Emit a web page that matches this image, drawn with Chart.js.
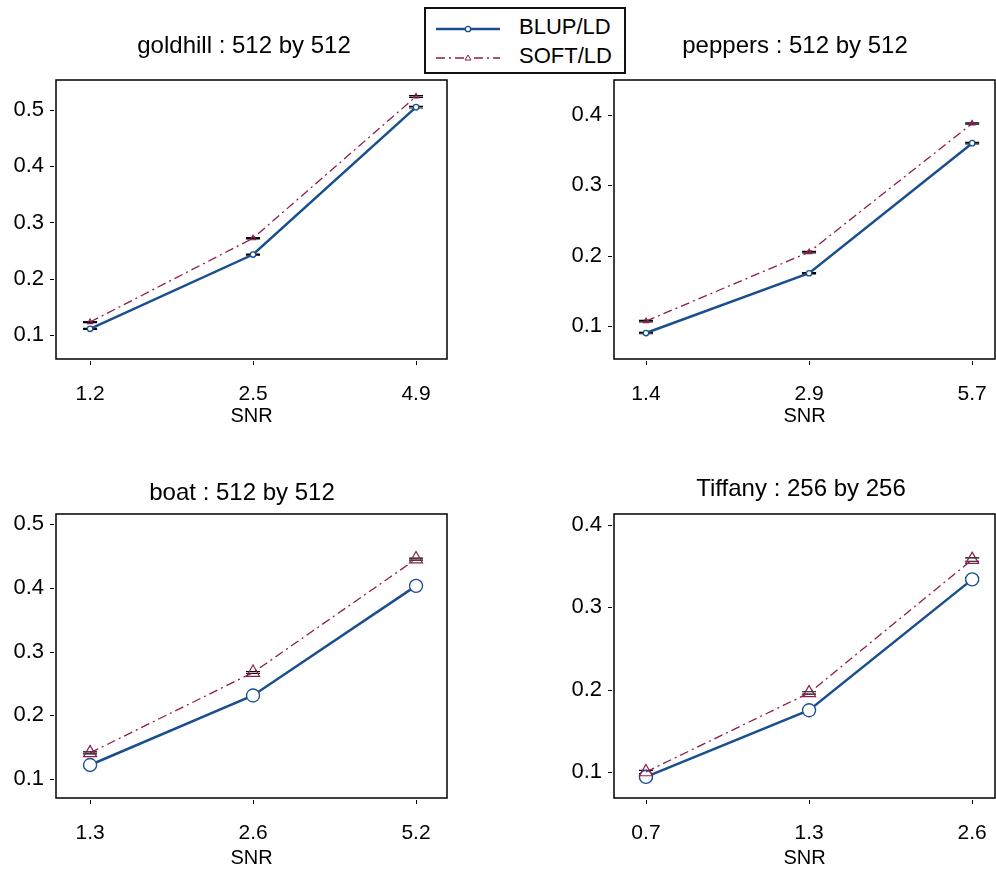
<!DOCTYPE html>
<html>
<head>
<meta charset="utf-8">
<script src="https://cdn.jsdelivr.net/npm/chart.js@4.4.1/dist/chart.umd.min.js"></script>
<style>
  html, body { margin: 0; padding: 0; background: #fff; }
  body { width: 996px; height: 873px; position: relative; overflow: hidden;
         font-family: "Liberation Sans", Arial, sans-serif; }
  canvas { position: absolute; }
  #key { position: absolute; left: 424px; top: 7px; width: 202px; height: 67px;
         box-sizing: border-box; border: 2px solid #111; background: #fff; }
  #key .txt { position: absolute; left: 93px; font-size: 22px; line-height: 26px; color: #000; }
  #key svg { position: absolute; left: 9px; }
</style>
</head>
<body>
<canvas id="c1"></canvas>
<canvas id="c2"></canvas>
<canvas id="c3"></canvas>
<canvas id="c4"></canvas>
<div id="key">
  <svg width="66" height="10" style="top:15px">
    <line x1="1" y1="5" x2="65" y2="5" stroke="#1a4f8f" stroke-width="2.5"/>
    <circle cx="33" cy="5" r="2.7" fill="#fff" stroke="#1a4f8f" stroke-width="1.3"/>
  </svg>
  <div class="txt" style="top:5px">BLUP/LD</div>
  <svg width="66" height="10" style="top:44px">
    <line x1="1" y1="5" x2="65" y2="5" stroke="#8c1c50" stroke-width="1.3" stroke-dasharray="9,4,2,4"/>
    <polygon points="33,2 36,7 30,7" fill="#fff" stroke="#8c1c50" stroke-width="1"/>
  </svg>
  <div class="txt" style="top:34px">SOFT/LD</div>
</div>
<script>
// ---- data ----
const goldhillSNR = ['1.2', '2.5', '4.9'];
const goldhillBLUP = [0.111, 0.243, 0.505];
const goldhillSOFT = [0.123, 0.272, 0.524];
const goldhillErr = [0.001, 0.001, 0.0015];
const goldhillYTicks = [0.1, 0.2, 0.3, 0.4, 0.5];

const peppersSNR = ['1.4', '2.9', '5.7'];
const peppersBLUP = [0.090, 0.175, 0.360];
const peppersSOFT = [0.107, 0.205, 0.388];
const peppersErr = [0.001, 0.001, 0.001];
const peppersYTicks = [0.1, 0.2, 0.3, 0.4];

const boatSNR = ['1.3', '2.6', '5.2'];
const boatBLUP = [0.122, 0.231, 0.403];
const boatSOFT = [0.141, 0.267, 0.445];
const boatErr = [0.0015, 0.0015, 0.0015];
const boatYTicks = [0.1, 0.2, 0.3, 0.4, 0.5];

const tiffanySNR = ['0.7', '1.3', '2.6'];
const tiffanyBLUP = [0.094, 0.175, 0.334];
const tiffanySOFT = [0.100, 0.196, 0.358];
const tiffanyErr = [0.002, 0.0015, 0.002];
const tiffanyYTicks = [0.1, 0.2, 0.3, 0.4];

const BLUE = '#1a4f8f';
const MAROON = '#8c1c50';
const FAMILY = '"Liberation Sans", Arial, sans-serif';
const XTICK_FONT = { family: FAMILY, size: 21 };
const YTICK_FONT = { family: FAMILY, size: 22 };
const AXIS_FONT = { family: FAMILY, size: 20 };
const TITLE_SIZE = 24;

// panel frames: canvas rectangle, plot box, axis ranges, title position
const panels = [
  { id: 'c1', title: 'goldhill : 512 by 512', snr: goldhillSNR, blup: goldhillBLUP, soft: goldhillSOFT,
    err: goldhillErr, yTicks: goldhillYTicks, canvas: [0, 0, 498, 440], box: [56, 80, 447, 359],
    xr: [-0.209, 2.19], yr: [0.0573, 0.5533], titleAt: [244, 46], circle: 2.7, tri: 3, snrPad: 12 },
  { id: 'c2', title: 'peppers : 512 by 512', snr: peppersSNR, blup: peppersBLUP, soft: peppersSOFT,
    err: peppersErr, yTicks: peppersYTicks, canvas: [498, 0, 498, 440], box: [614, 80, 995, 359],
    xr: [-0.196, 2.14], yr: [0.0531, 0.4498], titleAt: [795, 46], circle: 2.7, tri: 3, snrPad: 12 },
  { id: 'c3', title: 'boat : 512 by 512', snr: boatSNR, blup: boatBLUP, soft: boatSOFT,
    err: boatErr, yTicks: boatYTicks, canvas: [0, 440, 498, 433], box: [56, 514, 447, 798],
    xr: [-0.209, 2.19], yr: [0.0702, 0.5157], titleAt: [242, 493], circle: 6.5, tri: 7.5, snrPad: 3 },
  { id: 'c4', title: 'Tiffany : 256 by 256', snr: tiffanySNR, blup: tiffanyBLUP, soft: tiffanySOFT,
    err: tiffanyErr, yTicks: tiffanyYTicks, canvas: [498, 440, 498, 433], box: [614, 514, 995, 798],
    xr: [-0.196, 2.14], yr: [0.0684, 0.4134], titleAt: [801, 489], circle: 6.5, tri: 7.5, snrPad: 3 }
];

// plot frame, outside tick marks, panel title
const framePlugin = {
  id: 'frame',
  afterDraw(chart, args, opts) {
    const { ctx, chartArea: a, scales } = chart;
    ctx.save();
    ctx.strokeStyle = '#000';
    ctx.lineWidth = 1.5;
    ctx.strokeRect(a.left, a.top, a.right - a.left, a.bottom - a.top);
    ctx.lineWidth = 1;
    ctx.beginPath();
    scales.x.ticks.forEach(t => {
      const px = Math.round(scales.x.getPixelForValue(t.value)) + 0.5;
      ctx.moveTo(px, a.bottom + 2);
      ctx.lineTo(px, a.bottom + 6);
    });
    scales.y.ticks.forEach(t => {
      const py = Math.round(scales.y.getPixelForValue(t.value)) + 0.5;
      ctx.moveTo(a.left - 2, py);
      ctx.lineTo(a.left - 6, py);
    });
    ctx.stroke();
    ctx.fillStyle = '#000';
    ctx.font = TITLE_SIZE + 'px ' + FAMILY;
    ctx.textAlign = 'center';
    ctx.textBaseline = 'middle';
    ctx.fillText(opts.text, opts.x, opts.y);
    ctx.restore();
  }
};

// short horizontal caps marking each point's interval
const capsPlugin = {
  id: 'caps',
  beforeDatasetsDraw(chart, args, opts) {
    const { ctx, scales } = chart;
    ctx.save();
    ctx.strokeStyle = '#000';
    ctx.lineWidth = 1.2;
    ctx.beginPath();
    chart.data.datasets.forEach(ds => {
      ds.data.forEach((p, i) => {
        const px = scales.x.getPixelForValue(p.x);
        [p.y - opts.err[i], p.y + opts.err[i]].forEach(v => {
          const py = scales.y.getPixelForValue(v);
          ctx.moveTo(px - 7, py);
          ctx.lineTo(px + 7, py);
        });
      });
    });
    ctx.stroke();
    ctx.restore();
  }
};

panels.forEach(p => {
  const cv = document.getElementById(p.id);
  const [cx, cy, cw, ch] = p.canvas;
  cv.width = cw; cv.height = ch;
  cv.style.left = cx + 'px'; cv.style.top = cy + 'px';
  cv.style.width = cw + 'px'; cv.style.height = ch + 'px';
  const [bl, bt, br, bb] = p.box;
  const yWidth = bl - cx;
  const xHeight = cy + ch - bb;

  new Chart(cv, {
    type: 'line',
    data: {
      datasets: [
        { label: 'BLUP/LD', data: p.blup.map((v, i) => ({ x: i, y: v })),
          borderColor: BLUE, borderWidth: 2.5, tension: 0,
          pointStyle: 'circle', pointRadius: p.circle, pointBackgroundColor: '#fff',
          pointBorderColor: BLUE, pointBorderWidth: 1.3, order: 1 },
        { label: 'SOFT/LD', data: p.soft.map((v, i) => ({ x: i, y: v })),
          borderColor: MAROON, borderWidth: 1.3, borderDash: [9, 4, 2, 4], tension: 0,
          pointStyle: 'triangle', pointRadius: p.tri, pointBackgroundColor: 'rgba(255,255,255,0)',
          pointBorderColor: MAROON, pointBorderWidth: 1.2, order: 0 }
      ]
    },
    options: {
      responsive: false,
      animation: false,
      events: [],
      layout: { autoPadding: false, padding: { top: bt - cy, right: cx + cw - br, left: 0, bottom: 0 } },
      plugins: {
        legend: { display: false },
        tooltip: { enabled: false },
        title: { display: false },
        frame: { text: p.title, x: p.titleAt[0] - cx, y: p.titleAt[1] - cy },
        caps: { err: p.err }
      },
      scales: {
        x: {
          type: 'linear', min: p.xr[0], max: p.xr[1],
          afterBuildTicks: s => { s.ticks = p.snr.map((_, i) => ({ value: i })); },
          afterFit: s => { s.height = xHeight; s.paddingLeft = 0; s.paddingRight = 0; },
          grid: { display: false, drawTicks: false },
          border: { display: false },
          ticks: { callback: v => p.snr[v], font: XTICK_FONT, color: '#000', padding: 23,
                   maxRotation: 0, autoSkip: false },
          title: { display: true, text: 'SNR', font: AXIS_FONT, color: '#000',
                   padding: { top: p.snrPad, bottom: p.snrPad } }
        },
        y: {
          type: 'linear', min: p.yr[0], max: p.yr[1],
          afterBuildTicks: s => { s.ticks = p.yTicks.map(v => ({ value: v })); },
          afterFit: s => { s.width = yWidth; s.paddingTop = 0; s.paddingBottom = 0; },
          grid: { display: false, drawTicks: false },
          border: { display: false },
          ticks: { callback: v => v.toFixed(1), font: YTICK_FONT, color: '#000', padding: 12, autoSkip: false }
        }
      }
    },
    plugins: [framePlugin, capsPlugin]
  });
});
</script>
</body>
</html>
